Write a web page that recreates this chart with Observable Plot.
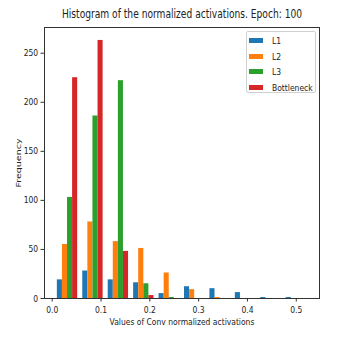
<!DOCTYPE html>
<html>
<head>
<meta charset="utf-8">
<script src="https://cdn.jsdelivr.net/npm/d3@7"></script>
<script src="https://cdn.jsdelivr.net/npm/@observablehq/plot@0.6"></script>
<style>
  html, body { margin: 0; padding: 0; background: white; }
  #wrap { position: relative; width: 343px; height: 337px; font-family: "DejaVu Sans", sans-serif; }
  #legend { position: absolute; left: 246px; top: 31px; width: 70px; height: 62px; border: 1px solid #d0d0d0; border-radius: 2px; background: rgba(255,255,255,0.8); box-sizing: border-box; padding: 1px 0 0 2px; }
  .item { display: flex; align-items: center; height: 15.6px; font-size: 9.5px; color: #222; white-space: nowrap; }
  .sw { width: 14px; height: 5px; margin-right: 9px; flex: none; }
  .lab { display: inline-block; transform: scaleX(0.8); transform-origin: left center; }
</style>
</head>
<body>
<div id="wrap"></div>
<script>
// Data
const seriesNames = ["L1", "L2", "L3", "Bottleneck"];
const seriesColors = ["#1f77b4", "#ff7f0e", "#2ca02c", "#d62728"];
const binStarts = [0.0053, 0.0574, 0.1095, 0.1616, 0.2137, 0.2658, 0.3179, 0.3700, 0.4221, 0.4742];
const binWidth = 0.0521;
const L1 = [19, 28, 19, 16, 5, 12, 10, 6, 1, 1];
const L2 = [55, 78, 58, 51, 26, 9, 1, 0, 0, 0];
const L3 = [103, 186, 222, 15, 1, 0, 0, 0, 0, 0];
const Bottleneck = [225, 263, 48, 3, 0, 0, 0, 0, 0, 0];
const xTicks = [0, 0.1, 0.2, 0.3, 0.4, 0.5];
const yTicks = [0, 50, 100, 150, 200, 250];
const title = "Histogram of the normalized activations. Epoch: 100";
const xLabel = "Values of Conv normalized activations";
const yLabel = "Frequency";

const seriesValues = [L1, L2, L3, Bottleneck];
const n = seriesNames.length;
// matplotlib multi-dataset hist: group = 0.8 of bin, each bar 0.8/n of bin
const barW = 0.8 * binWidth / n;
const table = seriesNames.flatMap((s, si) =>
  binStarts.map((b, bi) => ({
    series: s,
    x1: b + 0.1 * binWidth + si * barW,
    x2: b + 0.1 * binWidth + (si + 1) * barW,
    v: seriesValues[si][bi]
  }))
);

const chart = Plot.plot({
  width: 343,
  height: 337,
  marginLeft: 44,
  marginRight: 24,
  marginTop: 27,
  marginBottom: 39,
  style: { fontFamily: "DejaVu Sans, sans-serif", fontSize: "9.5px", color: "#222", background: "white" },
  x: { domain: [-0.0158, 0.5476] },
  y: { domain: [0, 276.2] },
  color: { domain: seriesNames, range: seriesColors },
  marks: [
    Plot.rectY(table.filter(d => d.v > 0), { x1: "x1", x2: "x2", y: "v", fill: "series", inset: 0 }),
    Plot.frame({ stroke: "#333", strokeWidth: 1 }),
    Plot.axisX({ ticks: xTicks, tickFormat: d3.format(".1f"), tickSize: 3.5, tickPadding: 4.5, label: null, stroke: "#333", fontSize: 9.5 }),
    Plot.axisY({ ticks: yTicks, tickSize: 3.5, tickPadding: 2.8, label: null, stroke: "#333", fontSize: 9.5 }),
    Plot.text([title], { frameAnchor: "top", lineAnchor: "middle", textAnchor: "middle", dy: -12.8, fontSize: 11.4, fill: "#222" }),
    Plot.text([xLabel], { frameAnchor: "bottom", lineAnchor: "middle", textAnchor: "middle", dy: 23.5, fontSize: 9.5, fill: "#222" }),
    Plot.text([yLabel], { frameAnchor: "left", lineAnchor: "middle", textAnchor: "middle", dx: -25.7, rotate: -90, fontSize: 9.5, fill: "#222" })
  ]
});

const wrap = document.getElementById("wrap");
wrap.appendChild(chart);

// Reference text is horizontally compressed: scale glyphs about their anchor.
const sx = 0.8;
chart.querySelectorAll("text").forEach(t => {
  const tr = t.getAttribute("transform") || "";
  const x = +t.getAttribute("x") || 0, y = +t.getAttribute("y") || 0;
  let base = tr;
  if (x || y) { t.removeAttribute("x"); t.removeAttribute("y"); base = `translate(${x},${y}) ` + tr; }
  const rotated = /rotate\(/.test(tr);
  t.setAttribute("transform", base + (rotated ? ` scale(1,${sx})` : ` scale(${sx},1)`));
});

const legend = document.createElement("div");
legend.id = "legend";
seriesNames.forEach((s, i) => {
  const item = document.createElement("div");
  item.className = "item";
  const sw = document.createElement("span");
  sw.className = "sw";
  sw.style.background = seriesColors[i];
  const lab = document.createElement("span");
  lab.className = "lab";
  lab.textContent = s;
  item.appendChild(sw);
  item.appendChild(lab);
  legend.appendChild(item);
});
wrap.appendChild(legend);
</script>
</body>
</html>
